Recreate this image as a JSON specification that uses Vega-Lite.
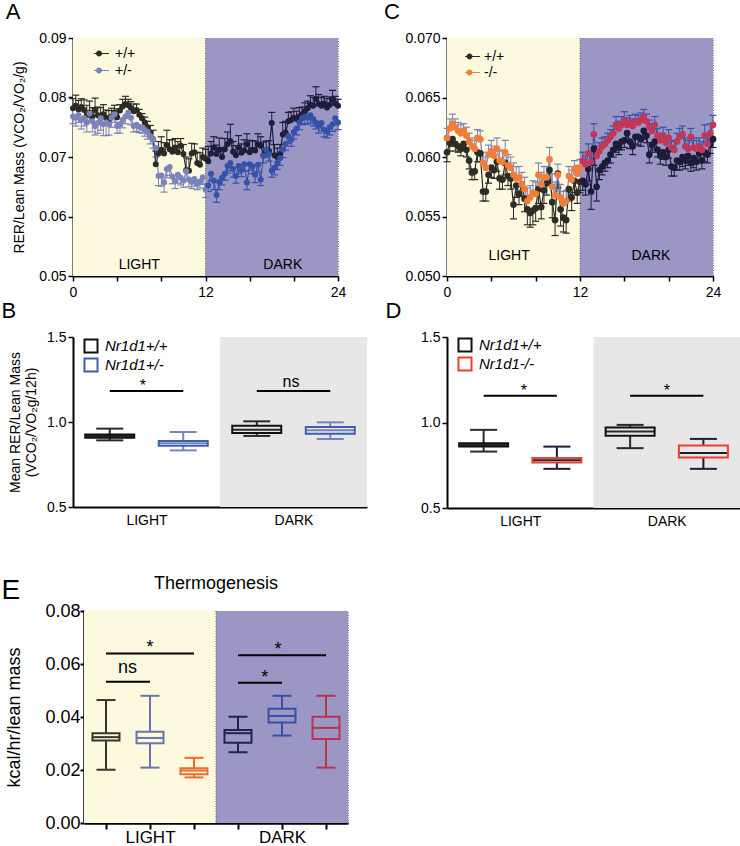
{
"$schema":"https://vega.github.io/schema/vega-lite/v6.json",
"padding":{"left":0,"top":0,"right":0,"bottom":0},
"config":{"font":"Liberation Sans","view":{"stroke":null},
"axis":{"grid":false,"domainColor":"#000","domainWidth":2,"tickColor":"#000","tickWidth":1.5,"tickSize":5,"labelColor":"#000","labelFontSize":14,"titleFontSize":14,"titleFontWeight":"normal","titleColor":"#000","labelFont":"Liberation Sans","titleFont":"Liberation Sans"},
"title":{"font":"Liberation Sans","fontWeight":"normal","color":"#000"},
"legend":{"labelFont":"Liberation Sans","labelColor":"#000"}},
"datasets":{
"a":[
{"g":"WL","t":0,"v":0.0782,"w":0.0798},{"g":"WL","t":0.25,"v":0.0786,"w":0.0804},{"g":"WL","t":0.5,"v":0.0780,"w":0.0795},{"g":"WL","t":0.75,"v":0.0784,"w":0.0798},{"g":"WL","t":1,"v":0.0779,"w":0.0796},{"g":"WL","t":1.25,"v":0.0771,"w":0.0787},{"g":"WL","t":1.5,"v":0.0775,"w":0.0794},{"g":"WL","t":1.75,"v":0.0768,"w":0.0783},{"g":"WL","t":2,"v":0.0779,"w":0.0799},{"g":"WL","t":2.25,"v":0.0770,"w":0.0784},{"g":"WL","t":2.5,"v":0.0765,"w":0.0783},{"g":"WL","t":2.75,"v":0.0772,"w":0.0788},{"g":"WL","t":3,"v":0.0766,"w":0.0779},{"g":"WL","t":3.25,"v":0.0763,"w":0.0778},{"g":"WL","t":3.5,"v":0.0768,"w":0.0782},{"g":"WL","t":3.75,"v":0.0775,"w":0.0787},{"g":"WL","t":4,"v":0.0767,"w":0.0781},{"g":"WL","t":4.25,"v":0.0778,"w":0.0788},{"g":"WL","t":4.5,"v":0.0785,"w":0.0797},{"g":"WL","t":4.75,"v":0.0789,"w":0.0802},{"g":"WL","t":5,"v":0.0787,"w":0.0797},{"g":"WL","t":5.25,"v":0.0782,"w":0.0793},{"g":"WL","t":5.5,"v":0.0777,"w":0.0789},{"g":"WL","t":5.75,"v":0.0779,"w":0.0789},{"g":"WL","t":6,"v":0.0771,"w":0.0780},{"g":"WL","t":6.25,"v":0.0765,"w":0.0773},{"g":"WL","t":6.5,"v":0.0758,"w":0.0767},{"g":"WL","t":6.75,"v":0.0750,"w":0.0760},{"g":"WL","t":7,"v":0.0741,"w":0.0753},{"g":"WL","t":7.25,"v":0.0730,"w":0.0745},{"g":"WL","t":7.5,"v":0.0688,"w":0.0710},{"g":"WL","t":7.75,"v":0.0706,"w":0.0726},{"g":"WL","t":8,"v":0.0712,"w":0.0734},{"g":"WL","t":8.25,"v":0.0706,"w":0.0724},{"g":"WL","t":8.5,"v":0.0720,"w":0.0745},{"g":"WL","t":8.75,"v":0.0713,"w":0.0729},{"g":"WL","t":9,"v":0.0709,"w":0.0729},{"g":"WL","t":9.25,"v":0.0716,"w":0.0731},{"g":"WL","t":9.5,"v":0.0708,"w":0.0726},{"g":"WL","t":9.75,"v":0.0719,"w":0.0731},{"g":"WL","t":10,"v":0.0705,"w":0.0721},{"g":"WL","t":10.25,"v":0.0678,"w":0.0700},{"g":"WL","t":10.5,"v":0.0677,"w":0.0697},{"g":"WL","t":10.75,"v":0.0706,"w":0.0723},{"g":"WL","t":11,"v":0.0708,"w":0.0722},{"g":"WL","t":11.25,"v":0.0690,"w":0.0708},{"g":"WL","t":11.5,"v":0.0687,"w":0.0707},{"g":"WL","t":11.75,"v":0.0700,"w":0.0715},{"g":"WL","t":12,"v":0.0697,"w":0.0713},
{"g":"WD","t":12.25,"v":0.0693,"w":0.0718},{"g":"WD","t":12.5,"v":0.0706,"w":0.0726},{"g":"WD","t":12.75,"v":0.0716,"w":0.0734},{"g":"WD","t":13,"v":0.0705,"w":0.0720},{"g":"WD","t":13.25,"v":0.0712,"w":0.0732},{"g":"WD","t":13.5,"v":0.0700,"w":0.0716},{"g":"WD","t":13.75,"v":0.0713,"w":0.0731},{"g":"WD","t":14,"v":0.0722,"w":0.0742},{"g":"WD","t":14.25,"v":0.0727,"w":0.0755},{"g":"WD","t":14.5,"v":0.0709,"w":0.0726},{"g":"WD","t":14.75,"v":0.0703,"w":0.0719},{"g":"WD","t":15,"v":0.0716,"w":0.0736},{"g":"WD","t":15.25,"v":0.0707,"w":0.0722},{"g":"WD","t":15.5,"v":0.0711,"w":0.0729},{"g":"WD","t":15.75,"v":0.0722,"w":0.0739},{"g":"WD","t":16,"v":0.0708,"w":0.0728},{"g":"WD","t":16.25,"v":0.0712,"w":0.0727},{"g":"WD","t":16.5,"v":0.0711,"w":0.0727},{"g":"WD","t":16.75,"v":0.0721,"w":0.0739},{"g":"WD","t":17,"v":0.0719,"w":0.0734},{"g":"WD","t":17.25,"v":0.0703,"w":0.0725},{"g":"WD","t":17.5,"v":0.0711,"w":0.0727},{"g":"WD","t":17.75,"v":0.0710,"w":0.0727},{"g":"WD","t":18,"v":0.0757,"w":0.0775},{"g":"WD","t":18.25,"v":0.0703,"w":0.0721},{"g":"WD","t":18.5,"v":0.0700,"w":0.0715},{"g":"WD","t":18.75,"v":0.0705,"w":0.0721},{"g":"WD","t":19,"v":0.0738,"w":0.0758},{"g":"WD","t":19.25,"v":0.0741,"w":0.0760},{"g":"WD","t":19.5,"v":0.0760,"w":0.0775},{"g":"WD","t":19.75,"v":0.0762,"w":0.0776},{"g":"WD","t":20,"v":0.0766,"w":0.0782},{"g":"WD","t":20.25,"v":0.0764,"w":0.0777},{"g":"WD","t":20.5,"v":0.0768,"w":0.0783},{"g":"WD","t":20.75,"v":0.0772,"w":0.0784},{"g":"WD","t":21,"v":0.0777,"w":0.0791},{"g":"WD","t":21.25,"v":0.0782,"w":0.0794},{"g":"WD","t":21.5,"v":0.0788,"w":0.0803},{"g":"WD","t":21.75,"v":0.0786,"w":0.0800},{"g":"WD","t":22,"v":0.0798,"w":0.0818},{"g":"WD","t":22.25,"v":0.0789,"w":0.0805},{"g":"WD","t":22.5,"v":0.0786,"w":0.0800},{"g":"WD","t":22.75,"v":0.0790,"w":0.0802},{"g":"WD","t":23,"v":0.0783,"w":0.0798},{"g":"WD","t":23.25,"v":0.0788,"w":0.0801},{"g":"WD","t":23.5,"v":0.0797,"w":0.0812},{"g":"WD","t":23.75,"v":0.0790,"w":0.0802},{"g":"WD","t":24,"v":0.0786,"w":0.0797},
{"g":"HL","t":0,"v":0.0768,"w":0.0756},{"g":"HL","t":0.25,"v":0.0766,"w":0.0752},{"g":"HL","t":0.5,"v":0.0770,"w":0.0758},{"g":"HL","t":0.75,"v":0.0762,"w":0.0747},{"g":"HL","t":1,"v":0.0765,"w":0.0752},{"g":"HL","t":1.25,"v":0.0758,"w":0.0742},{"g":"HL","t":1.5,"v":0.0773,"w":0.0759},{"g":"HL","t":1.75,"v":0.0760,"w":0.0742},{"g":"HL","t":2,"v":0.0752,"w":0.0737},{"g":"HL","t":2.25,"v":0.0757,"w":0.0740},{"g":"HL","t":2.5,"v":0.0765,"w":0.0745},{"g":"HL","t":2.75,"v":0.0755,"w":0.0736},{"g":"HL","t":3,"v":0.0758,"w":0.0736},{"g":"HL","t":3.25,"v":0.0755,"w":0.0737},{"g":"HL","t":3.5,"v":0.0766,"w":0.0750},{"g":"HL","t":3.75,"v":0.0772,"w":0.0758},{"g":"HL","t":4,"v":0.0752,"w":0.0740},{"g":"HL","t":4.25,"v":0.0755,"w":0.0740},{"g":"HL","t":4.5,"v":0.0762,"w":0.0749},{"g":"HL","t":4.75,"v":0.0768,"w":0.0756},{"g":"HL","t":5,"v":0.0775,"w":0.0765},{"g":"HL","t":5.25,"v":0.0766,"w":0.0754},{"g":"HL","t":5.5,"v":0.0752,"w":0.0742},{"g":"HL","t":5.75,"v":0.0754,"w":0.0743},{"g":"HL","t":6,"v":0.0751,"w":0.0741},{"g":"HL","t":6.25,"v":0.0749,"w":0.0740},{"g":"HL","t":6.5,"v":0.0746,"w":0.0735},{"g":"HL","t":6.75,"v":0.0742,"w":0.0730},{"g":"HL","t":7,"v":0.0735,"w":0.0722},{"g":"HL","t":7.25,"v":0.0729,"w":0.0715},{"g":"HL","t":7.5,"v":0.0715,"w":0.0700},{"g":"HL","t":7.75,"v":0.0668,"w":0.0652},{"g":"HL","t":8,"v":0.0669,"w":0.0651},{"g":"HL","t":8.25,"v":0.0657,"w":0.0641},{"g":"HL","t":8.5,"v":0.0680,"w":0.0665},{"g":"HL","t":8.75,"v":0.0683,"w":0.0669},{"g":"HL","t":9,"v":0.0667,"w":0.0655},{"g":"HL","t":9.25,"v":0.0660,"w":0.0647},{"g":"HL","t":9.5,"v":0.0670,"w":0.0656},{"g":"HL","t":9.75,"v":0.0665,"w":0.0653},{"g":"HL","t":10,"v":0.0660,"w":0.0649},{"g":"HL","t":10.25,"v":0.0676,"w":0.0663},{"g":"HL","t":10.5,"v":0.0662,"w":0.0650},{"g":"HL","t":10.75,"v":0.0658,"w":0.0647},{"g":"HL","t":11,"v":0.0663,"w":0.0651},{"g":"HL","t":11.25,"v":0.0655,"w":0.0645},{"g":"HL","t":11.5,"v":0.0659,"w":0.0648},{"g":"HL","t":11.75,"v":0.0666,"w":0.0654},{"g":"HL","t":12,"v":0.0645,"w":0.0632},
{"g":"HD","t":12.25,"v":0.0652,"w":0.0642},{"g":"HD","t":12.5,"v":0.0672,"w":0.0660},{"g":"HD","t":12.75,"v":0.0660,"w":0.0645},{"g":"HD","t":13,"v":0.0636,"w":0.0624},{"g":"HD","t":13.25,"v":0.0658,"w":0.0645},{"g":"HD","t":13.5,"v":0.0665,"w":0.0653},{"g":"HD","t":13.75,"v":0.0672,"w":0.0661},{"g":"HD","t":14,"v":0.0685,"w":0.0673},{"g":"HD","t":14.25,"v":0.0690,"w":0.0677},{"g":"HD","t":14.5,"v":0.0680,"w":0.0666},{"g":"HD","t":14.75,"v":0.0668,"w":0.0656},{"g":"HD","t":15,"v":0.0685,"w":0.0672},{"g":"HD","t":15.25,"v":0.0678,"w":0.0667},{"g":"HD","t":15.5,"v":0.0688,"w":0.0676},{"g":"HD","t":15.75,"v":0.0657,"w":0.0645},{"g":"HD","t":16,"v":0.0688,"w":0.0677},{"g":"HD","t":16.25,"v":0.0684,"w":0.0672},{"g":"HD","t":16.5,"v":0.0670,"w":0.0657},{"g":"HD","t":16.75,"v":0.0687,"w":0.0675},{"g":"HD","t":17,"v":0.0662,"w":0.0652},{"g":"HD","t":17.25,"v":0.0702,"w":0.0690},{"g":"HD","t":17.5,"v":0.0712,"w":0.0699},{"g":"HD","t":17.75,"v":0.0705,"w":0.0693},{"g":"HD","t":18,"v":0.0677,"w":0.0666},{"g":"HD","t":18.25,"v":0.0682,"w":0.0670},{"g":"HD","t":18.5,"v":0.0690,"w":0.0679},{"g":"HD","t":18.75,"v":0.0698,"w":0.0686},{"g":"HD","t":19,"v":0.0712,"w":0.0699},{"g":"HD","t":19.25,"v":0.0722,"w":0.0711},{"g":"HD","t":19.5,"v":0.0735,"w":0.0723},{"g":"HD","t":19.75,"v":0.0729,"w":0.0718},{"g":"HD","t":20,"v":0.0742,"w":0.0730},{"g":"HD","t":20.25,"v":0.0748,"w":0.0737},{"g":"HD","t":20.5,"v":0.0758,"w":0.0746},{"g":"HD","t":20.75,"v":0.0765,"w":0.0754},{"g":"HD","t":21,"v":0.0768,"w":0.0756},{"g":"HD","t":21.25,"v":0.0766,"w":0.0755},{"g":"HD","t":21.5,"v":0.0770,"w":0.0757},{"g":"HD","t":21.75,"v":0.0764,"w":0.0752},{"g":"HD","t":22,"v":0.0758,"w":0.0747},{"g":"HD","t":22.25,"v":0.0752,"w":0.0740},{"g":"HD","t":22.5,"v":0.0757,"w":0.0744},{"g":"HD","t":22.75,"v":0.0746,"w":0.0734},{"g":"HD","t":23,"v":0.0743,"w":0.0732},{"g":"HD","t":23.25,"v":0.0750,"w":0.0737},{"g":"HD","t":23.5,"v":0.0755,"w":0.0743},{"g":"HD","t":23.75,"v":0.0765,"w":0.0754},{"g":"HD","t":24,"v":0.0758,"w":0.0746}
],
"c":[
{"g":"WL","t":0,"v":0.0604,"w":0.0596},{"g":"WL","t":0.25,"v":0.0612,"w":0.0605},{"g":"WL","t":0.5,"v":0.0615,"w":0.0609},{"g":"WL","t":0.75,"v":0.0611,"w":0.0605},{"g":"WL","t":1,"v":0.0609,"w":0.0604},{"g":"WL","t":1.25,"v":0.0607,"w":0.0601},{"g":"WL","t":1.5,"v":0.0611,"w":0.0606},{"g":"WL","t":1.75,"v":0.0606,"w":0.0600},{"g":"WL","t":2,"v":0.0597,"w":0.0590},{"g":"WL","t":2.25,"v":0.0587,"w":0.0581},{"g":"WL","t":2.5,"v":0.0588,"w":0.0581},{"g":"WL","t":2.75,"v":0.0604,"w":0.0596},{"g":"WL","t":3,"v":0.0603,"w":0.0596},{"g":"WL","t":3.25,"v":0.0571,"w":0.0563},{"g":"WL","t":3.5,"v":0.0571,"w":0.0563},{"g":"WL","t":3.75,"v":0.0585,"w":0.0578},{"g":"WL","t":4,"v":0.0591,"w":0.0583},{"g":"WL","t":4.25,"v":0.0589,"w":0.0582},{"g":"WL","t":4.5,"v":0.0596,"w":0.0588},{"g":"WL","t":4.75,"v":0.0582,"w":0.0573},{"g":"WL","t":5,"v":0.0581,"w":0.0573},{"g":"WL","t":5.25,"v":0.0595,"w":0.0585},{"g":"WL","t":5.5,"v":0.0584,"w":0.0576},{"g":"WL","t":5.75,"v":0.0582,"w":0.0573},{"g":"WL","t":6,"v":0.0560,"w":0.0548},{"g":"WL","t":6.25,"v":0.0576,"w":0.0566},{"g":"WL","t":6.5,"v":0.0569,"w":0.0560},{"g":"WL","t":6.75,"v":0.0577,"w":0.0567},{"g":"WL","t":7,"v":0.0565,"w":0.0554},{"g":"WL","t":7.25,"v":0.0556,"w":0.0543},{"g":"WL","t":7.5,"v":0.0553,"w":0.0541},{"g":"WL","t":7.75,"v":0.0555,"w":0.0543},{"g":"WL","t":8,"v":0.0557,"w":0.0546},{"g":"WL","t":8.25,"v":0.0573,"w":0.0561},{"g":"WL","t":8.5,"v":0.0558,"w":0.0548},{"g":"WL","t":8.75,"v":0.0572,"w":0.0561},{"g":"WL","t":9,"v":0.0578,"w":0.0568},{"g":"WL","t":9.25,"v":0.0589,"w":0.0577},{"g":"WL","t":9.5,"v":0.0562,"w":0.0549},{"g":"WL","t":9.75,"v":0.0547,"w":0.0534},{"g":"WL","t":10,"v":0.0586,"w":0.0574},{"g":"WL","t":10.25,"v":0.0556,"w":0.0542},{"g":"WL","t":10.5,"v":0.0549,"w":0.0537},{"g":"WL","t":10.75,"v":0.0547,"w":0.0536},{"g":"WL","t":11,"v":0.0573,"w":0.0563},{"g":"WL","t":11.25,"v":0.0566,"w":0.0555},{"g":"WL","t":11.5,"v":0.0580,"w":0.0570},{"g":"WL","t":11.75,"v":0.0570,"w":0.0561},{"g":"WL","t":12,"v":0.0579,"w":0.0570},
{"g":"WD","t":12.25,"v":0.0580,"w":0.0572},{"g":"WD","t":12.5,"v":0.0577,"w":0.0568},{"g":"WD","t":12.75,"v":0.0590,"w":0.0580},{"g":"WD","t":13,"v":0.0571,"w":0.0556},{"g":"WD","t":13.25,"v":0.0607,"w":0.0593},{"g":"WD","t":13.5,"v":0.0575,"w":0.0563},{"g":"WD","t":13.75,"v":0.0589,"w":0.0581},{"g":"WD","t":14,"v":0.0592,"w":0.0585},{"g":"WD","t":14.25,"v":0.0595,"w":0.0588},{"g":"WD","t":14.5,"v":0.0597,"w":0.0591},{"g":"WD","t":14.75,"v":0.0602,"w":0.0595},{"g":"WD","t":15,"v":0.0606,"w":0.0600},{"g":"WD","t":15.25,"v":0.0611,"w":0.0604},{"g":"WD","t":15.5,"v":0.0608,"w":0.0602},{"g":"WD","t":15.75,"v":0.0613,"w":0.0606},{"g":"WD","t":16,"v":0.0614,"w":0.0608},{"g":"WD","t":16.25,"v":0.0620,"w":0.0613},{"g":"WD","t":16.5,"v":0.0613,"w":0.0607},{"g":"WD","t":16.75,"v":0.0609,"w":0.0602},{"g":"WD","t":17,"v":0.0617,"w":0.0611},{"g":"WD","t":17.25,"v":0.0617,"w":0.0610},{"g":"WD","t":17.5,"v":0.0615,"w":0.0609},{"g":"WD","t":17.75,"v":0.0622,"w":0.0615},{"g":"WD","t":18,"v":0.0618,"w":0.0612},{"g":"WD","t":18.25,"v":0.0602,"w":0.0595},{"g":"WD","t":18.5,"v":0.0610,"w":0.0604},{"g":"WD","t":18.75,"v":0.0613,"w":0.0606},{"g":"WD","t":19,"v":0.0606,"w":0.0600},{"g":"WD","t":19.25,"v":0.0601,"w":0.0594},{"g":"WD","t":19.5,"v":0.0604,"w":0.0598},{"g":"WD","t":19.75,"v":0.0600,"w":0.0593},{"g":"WD","t":20,"v":0.0606,"w":0.0599},{"g":"WD","t":20.25,"v":0.0592,"w":0.0584},{"g":"WD","t":20.5,"v":0.0591,"w":0.0584},{"g":"WD","t":20.75,"v":0.0597,"w":0.0589},{"g":"WD","t":21,"v":0.0596,"w":0.0589},{"g":"WD","t":21.25,"v":0.0600,"w":0.0592},{"g":"WD","t":21.5,"v":0.0597,"w":0.0590},{"g":"WD","t":21.75,"v":0.0601,"w":0.0593},{"g":"WD","t":22,"v":0.0595,"w":0.0588},{"g":"WD","t":22.25,"v":0.0599,"w":0.0591},{"g":"WD","t":22.5,"v":0.0596,"w":0.0589},{"g":"WD","t":22.75,"v":0.0603,"w":0.0595},{"g":"WD","t":23,"v":0.0597,"w":0.0590},{"g":"WD","t":23.25,"v":0.0604,"w":0.0596},{"g":"WD","t":23.5,"v":0.0602,"w":0.0595},{"g":"WD","t":23.75,"v":0.0611,"w":0.0603},{"g":"WD","t":24,"v":0.0615,"w":0.0608},
{"g":"HL","t":0,"v":0.0616,"w":0.0624},{"g":"HL","t":0.25,"v":0.0624,"w":0.0632},{"g":"HL","t":0.5,"v":0.0628,"w":0.0636},{"g":"HL","t":0.75,"v":0.0625,"w":0.0632},{"g":"HL","t":1,"v":0.0622,"w":0.0629},{"g":"HL","t":1.25,"v":0.0620,"w":0.0627},{"g":"HL","t":1.5,"v":0.0622,"w":0.0628},{"g":"HL","t":1.75,"v":0.0618,"w":0.0625},{"g":"HL","t":2,"v":0.0613,"w":0.0620},{"g":"HL","t":2.25,"v":0.0609,"w":0.0616},{"g":"HL","t":2.5,"v":0.0607,"w":0.0614},{"g":"HL","t":2.75,"v":0.0616,"w":0.0623},{"g":"HL","t":3,"v":0.0615,"w":0.0622},{"g":"HL","t":3.25,"v":0.0595,"w":0.0604},{"g":"HL","t":3.5,"v":0.0591,"w":0.0600},{"g":"HL","t":3.75,"v":0.0602,"w":0.0610},{"g":"HL","t":4,"v":0.0605,"w":0.0614},{"g":"HL","t":4.25,"v":0.0601,"w":0.0609},{"g":"HL","t":4.5,"v":0.0607,"w":0.0616},{"g":"HL","t":4.75,"v":0.0597,"w":0.0606},{"g":"HL","t":5,"v":0.0596,"w":0.0605},{"g":"HL","t":5.25,"v":0.0604,"w":0.0614},{"g":"HL","t":5.5,"v":0.0593,"w":0.0602},{"g":"HL","t":5.75,"v":0.0591,"w":0.0600},{"g":"HL","t":6,"v":0.0585,"w":0.0595},{"g":"HL","t":6.25,"v":0.0582,"w":0.0592},{"g":"HL","t":6.5,"v":0.0583,"w":0.0592},{"g":"HL","t":6.75,"v":0.0577,"w":0.0587},{"g":"HL","t":7,"v":0.0573,"w":0.0583},{"g":"HL","t":7.25,"v":0.0563,"w":0.0574},{"g":"HL","t":7.5,"v":0.0566,"w":0.0576},{"g":"HL","t":7.75,"v":0.0570,"w":0.0580},{"g":"HL","t":8,"v":0.0569,"w":0.0579},{"g":"HL","t":8.25,"v":0.0585,"w":0.0595},{"g":"HL","t":8.5,"v":0.0577,"w":0.0587},{"g":"HL","t":8.75,"v":0.0583,"w":0.0592},{"g":"HL","t":9,"v":0.0583,"w":0.0592},{"g":"HL","t":9.25,"v":0.0598,"w":0.0608},{"g":"HL","t":9.5,"v":0.0575,"w":0.0586},{"g":"HL","t":9.75,"v":0.0568,"w":0.0579},{"g":"HL","t":10,"v":0.0585,"w":0.0594},{"g":"HL","t":10.25,"v":0.0566,"w":0.0577},{"g":"HL","t":10.5,"v":0.0561,"w":0.0571},{"g":"HL","t":10.75,"v":0.0563,"w":0.0572},{"g":"HL","t":11,"v":0.0584,"w":0.0592},{"g":"HL","t":11.25,"v":0.0581,"w":0.0589},{"g":"HL","t":11.5,"v":0.0590,"w":0.0597},{"g":"HL","t":11.75,"v":0.0586,"w":0.0593},{"g":"HL","t":12,"v":0.0591,"w":0.0598},
{"g":"HD","t":12.25,"v":0.0597,"w":0.0604},{"g":"HD","t":12.5,"v":0.0594,"w":0.0601},{"g":"HD","t":12.75,"v":0.0603,"w":0.0611},{"g":"HD","t":13,"v":0.0596,"w":0.0605},{"g":"HD","t":13.25,"v":0.0619,"w":0.0628},{"g":"HD","t":13.5,"v":0.0601,"w":0.0609},{"g":"HD","t":13.75,"v":0.0605,"w":0.0612},{"g":"HD","t":14,"v":0.0609,"w":0.0616},{"g":"HD","t":14.25,"v":0.0611,"w":0.0617},{"g":"HD","t":14.5,"v":0.0614,"w":0.0620},{"g":"HD","t":14.75,"v":0.0617,"w":0.0623},{"g":"HD","t":15,"v":0.0620,"w":0.0626},{"g":"HD","t":15.25,"v":0.0627,"w":0.0634},{"g":"HD","t":15.5,"v":0.0624,"w":0.0630},{"g":"HD","t":15.75,"v":0.0627,"w":0.0634},{"g":"HD","t":16,"v":0.0631,"w":0.0638},{"g":"HD","t":16.25,"v":0.0627,"w":0.0633},{"g":"HD","t":16.5,"v":0.0629,"w":0.0635},{"g":"HD","t":16.75,"v":0.0626,"w":0.0632},{"g":"HD","t":17,"v":0.0630,"w":0.0636},{"g":"HD","t":17.25,"v":0.0629,"w":0.0635},{"g":"HD","t":17.5,"v":0.0631,"w":0.0637},{"g":"HD","t":17.75,"v":0.0634,"w":0.0640},{"g":"HD","t":18,"v":0.0630,"w":0.0636},{"g":"HD","t":18.25,"v":0.0625,"w":0.0631},{"g":"HD","t":18.5,"v":0.0622,"w":0.0628},{"g":"HD","t":18.75,"v":0.0627,"w":0.0634},{"g":"HD","t":19,"v":0.0618,"w":0.0624},{"g":"HD","t":19.25,"v":0.0614,"w":0.0620},{"g":"HD","t":19.5,"v":0.0618,"w":0.0625},{"g":"HD","t":19.75,"v":0.0612,"w":0.0618},{"g":"HD","t":20,"v":0.0616,"w":0.0623},{"g":"HD","t":20.25,"v":0.0608,"w":0.0614},{"g":"HD","t":20.5,"v":0.0606,"w":0.0613},{"g":"HD","t":20.75,"v":0.0613,"w":0.0620},{"g":"HD","t":21,"v":0.0617,"w":0.0624},{"g":"HD","t":21.25,"v":0.0619,"w":0.0626},{"g":"HD","t":21.5,"v":0.0609,"w":0.0616},{"g":"HD","t":21.75,"v":0.0607,"w":0.0614},{"g":"HD","t":22,"v":0.0617,"w":0.0624},{"g":"HD","t":22.25,"v":0.0608,"w":0.0616},{"g":"HD","t":22.5,"v":0.0607,"w":0.0614},{"g":"HD","t":22.75,"v":0.0609,"w":0.0616},{"g":"HD","t":23,"v":0.0606,"w":0.0613},{"g":"HD","t":23.25,"v":0.0618,"w":0.0627},{"g":"HD","t":23.5,"v":0.0611,"w":0.0618},{"g":"HD","t":23.75,"v":0.0620,"w":0.0628},{"g":"HD","t":24,"v":0.0627,"w":0.0635}
]},
"spacing":46,
"resolve":{"scale":{"color":"independent"},"legend":{"color":"independent"}},
"vconcat":[
{"spacing":0,"resolve":{"scale":{"color":"independent"},"legend":{"color":"independent"}},
"hconcat":[
{"width":1,"height":1,"data":{"values":[{}]},"mark":{"type":"text","text":""},"encoding":{}},
{"columns":2,"bounds":"flush","spacing":{"row":61,"column":80},
"resolve":{"scale":{"color":"independent"},"legend":{"color":"independent"}},
"concat":[
{"width":265,"height":238,
"title":{"text":"A","anchor":"start","frame":"bounds","fontSize":22,"dx":-7,"offset":7},
"view":{"stroke":"#777","strokeDash":[1,1.5],"strokeWidth":1},
"layer":[
{"data":{"values":[{"a":0,"b":12}]},"mark":{"type":"rect","color":"#fdf9de"},
"encoding":{"x":{"field":"a","type":"quantitative","scale":{"domain":[0,24],"nice":false},"axis":{"title":null,"values":[0,0.5,1,1.5,2,2.5,3,3.5,4,4.5,5,5.5,6,6.5,7,7.5,8,8.5,9,9.5,10,10.5,11,11.5,12,12.5,13,13.5,14,14.5,15,15.5,16,16.5,17,17.5,18,18.5,19,19.5,20,20.5,21,21.5,22,22.5,23,23.5,24],"labelExpr":"datum.value == 0 ? '0' : datum.value == 12 ? '12' : datum.value == 24 ? '24' : ''","labelFlush":false,"labelOverlap":false,"labelPadding":4}},
"x2":{"field":"b"},
"y":{"datum":0.05,"type":"quantitative","scale":{"domain":[0.05,0.09],"nice":false,"zero":false},"axis":{"values":[0.05,0.06,0.07,0.08,0.09],"format":".2f","title":"RER/Lean Mass (VCO₂/VO₂/g)","titlePadding":12,"labelPadding":2}},
"y2":{"datum":0.09}}},
{"data":{"values":[{"a":12,"b":24}]},"mark":{"type":"rect","color":"#9b96c4"},
"encoding":{"x":{"field":"a","type":"quantitative"},"x2":{"field":"b"},"y":{"datum":0.05,"type":"quantitative"},"y2":{"datum":0.09}}},
{"data":{"values":[{}]},"mark":{"type":"rule","strokeDash":[1,1.5],"color":"#666","strokeWidth":1},"encoding":{"x":{"datum":12,"type":"quantitative"}}},
{"data":{"values":[{"t":6,"v":0.0519,"s":"LIGHT"},{"t":19,"v":0.0519,"s":"DARK"}]},"mark":{"type":"text","fontSize":14,"baseline":"middle","color":"#000"},
"encoding":{"x":{"field":"t","type":"quantitative"},"y":{"field":"v","type":"quantitative"},"text":{"field":"s"}}},
{"data":{"name":"a"},"mark":{"type":"rule","strokeWidth":1},
"encoding":{"x":{"field":"t","type":"quantitative"},"y":{"field":"v","type":"quantitative"},"y2":{"field":"w"},"stroke":{"field":"g","type":"nominal","scale":{"domain":["WL","HL","WD","HD"],"range":["#2b2b26","#7b83bd","#1d1d3d","#3552a8"]},"legend":null}}},
{"data":{"name":"a"},"mark":{"type":"tick","orient":"horizontal","size":7,"thickness":1.2,"opacity":1},
"encoding":{"x":{"field":"t","type":"quantitative"},"y":{"field":"w","type":"quantitative"},"fill":{"field":"g","type":"nominal","scale":{"domain":["WL","HL","WD","HD"],"range":["#2b2b26","#7b83bd","#1d1d3d","#3552a8"]},"legend":null}}},
{"data":{"name":"a"},"mark":{"type":"line","strokeWidth":1.2},
"encoding":{"x":{"field":"t","type":"quantitative"},"y":{"field":"v","type":"quantitative"},"stroke":{"field":"g","type":"nominal","legend":null}}},
{"data":{"name":"a"},"mark":{"type":"point","filled":true,"size":36,"opacity":1},
"encoding":{"x":{"field":"t","type":"quantitative"},"y":{"field":"v","type":"quantitative"},"color":{"field":"g","type":"nominal","scale":{"domain":["WL","HL","WD","HD"],"range":["#2b2b26","#7b83bd","#1d1d3d","#3552a8"]},"legend":{"values":["WL","HL"],"labelExpr":"datum.value == 'WL' ? '+/+' : '+/-'","title":null,"orient":"none","legendX":20,"legendY":7,"symbolType":"M-1,-0.08L1,-0.08L1,0.08L-1,0.08Z M0.07,0A0.4,0.4,0,1,1,-0.73,0A0.4,0.4,0,1,1,0.07,0Z","symbolSize":225,"labelFontSize":14,"labelOffset":5,"rowPadding":1,"padding":0}}}}
]},
{"width":266,"height":238,
"title":{"text":"C","anchor":"start","frame":"bounds","fontSize":22,"dx":-21,"offset":7},
"view":{"stroke":"#777","strokeDash":[1,1.5],"strokeWidth":1},
"layer":[
{"data":{"values":[{"a":0,"b":12}]},"mark":{"type":"rect","color":"#fdf9de"},
"encoding":{"x":{"field":"a","type":"quantitative","scale":{"domain":[0,24],"nice":false},"axis":{"title":null,"values":[0,1,2,3,4,5,6,7,8,9,10,11,12,13,14,15,16,17,18,19,20,21,22,23,24],"labelExpr":"datum.value == 0 ? '0' : datum.value == 12 ? '12' : datum.value == 24 ? '24' : ''","labelFlush":false,"labelOverlap":false,"labelPadding":4}},
"x2":{"field":"b"},
"y":{"datum":0.05,"type":"quantitative","scale":{"domain":[0.05,0.07],"nice":false,"zero":false},"axis":{"values":[0.05,0.055,0.06,0.065,0.07],"format":".3f","title":null,"labelPadding":2}},
"y2":{"datum":0.07}}},
{"data":{"values":[{"a":12,"b":24}]},"mark":{"type":"rect","color":"#9b96c4"},
"encoding":{"x":{"field":"a","type":"quantitative"},"x2":{"field":"b"},"y":{"datum":0.05,"type":"quantitative"},"y2":{"datum":0.07}}},
{"data":{"values":[{}]},"mark":{"type":"rule","strokeDash":[1,1.5],"color":"#666","strokeWidth":1},"encoding":{"x":{"datum":12,"type":"quantitative"}}},
{"data":{"values":[{"t":5.6,"v":0.0517,"s":"LIGHT"},{"t":18.4,"v":0.0517,"s":"DARK"}]},"mark":{"type":"text","fontSize":14,"baseline":"middle","color":"#000"},
"encoding":{"x":{"field":"t","type":"quantitative"},"y":{"field":"v","type":"quantitative"},"text":{"field":"s"}}},
{"data":{"name":"c"},"mark":{"type":"rule","strokeWidth":1},
"encoding":{"x":{"field":"t","type":"quantitative"},"y":{"field":"v","type":"quantitative"},"y2":{"field":"w"},"stroke":{"field":"g","type":"nominal","scale":{"domain":["WL","HL","WD","HD"],"range":["#2d2d26","#f07e3a","#1c1c3a","#c0375a"]},"legend":null}}},
{"data":{"name":"c"},"mark":{"type":"tick","orient":"horizontal","size":7,"thickness":1.2,"opacity":1},
"encoding":{"x":{"field":"t","type":"quantitative"},"y":{"field":"w","type":"quantitative"},"fill":{"field":"g","type":"nominal","scale":{"domain":["WL","HL","WD","HD"],"range":["#2d2d26","#f07e3a","#1c1c3a","#c0375a"]},"legend":null}}},
{"data":{"name":"c"},"mark":{"type":"line","strokeWidth":1.2},
"encoding":{"x":{"field":"t","type":"quantitative"},"y":{"field":"v","type":"quantitative"},"stroke":{"field":"g","type":"nominal","legend":null}}},
{"data":{"name":"c"},"mark":{"type":"point","filled":true,"size":45,"opacity":1},
"encoding":{"x":{"field":"t","type":"quantitative"},"y":{"field":"v","type":"quantitative"},"color":{"field":"g","type":"nominal","scale":{"domain":["WL","HL","WD","HD"],"range":["#2d2d26","#f07e3a","#1c1c3a","#c0375a"]},"legend":{"values":["WL","HL"],"labelExpr":"datum.value == 'WL' ? '+/+' : '-/-'","title":null,"orient":"none","legendX":17,"legendY":10,"symbolType":"M-1,-0.08L1,-0.08L1,0.08L-1,0.08Z M0,0A0.4,0.4,0,1,1,-0.8,0A0.4,0.4,0,1,1,0,0Z","symbolSize":225,"labelFontSize":14,"labelOffset":3,"rowPadding":0,"padding":0}}}}
]},
{"width":294,"height":170,
"title":{"text":"B","anchor":"start","frame":"bounds","fontSize":22,"dx":-7,"offset":7},
"layer":[
{"layer":[
{"data":{"values":[{"a":1,"b":2}]},"mark":{"type":"rect","color":"#e7e7e7"},
"encoding":{"x":{"field":"a","type":"quantitative","scale":{"domain":[0,2],"nice":false},"axis":{"title":null,"values":[0.5,1.5],"labelExpr":"datum.value == 0.5 ? 'LIGHT' : 'DARK'","ticks":false,"labelPadding":6,"labelFlush":false}},
"x2":{"field":"b"},
"y":{"datum":0.5,"type":"quantitative","scale":{"domain":[0.5,1.5],"nice":false,"zero":false},"axis":{"values":[0.5,1.0,1.5],"format":".1f","title":["Mean RER/Lean Mass","(VCO₂/VO₂g/12h)"],"titlePadding":8,"labelPadding":2}},
"y2":{"datum":1.5}}},
{"data":{"values":[{"x":0.476,"y":1.182,"s":"*"},{"x":1.483,"y":1.206,"s":"ns"}]},"mark":{"type":"text","fontSize":16,"baseline":"alphabetic","color":"#000"},
"encoding":{"x":{"field":"x","type":"quantitative"},"y":{"field":"y","type":"quantitative"},"text":{"field":"s"}}}
]},
{"data":{"values":[
{"k":"LIGHT +/+","g":"Nr1d1+/+","lo":0.892,"q1":0.908,"m":0.918,"q3":0.927,"hi":0.961},
{"k":"LIGHT +/-","g":"Nr1d1+/-","lo":0.833,"q1":0.861,"m":0.875,"q3":0.888,"hi":0.941},
{"k":"DARK +/+","g":"Nr1d1+/+","lo":0.918,"q1":0.935,"m":0.955,"q3":0.978,"hi":1.004},
{"k":"DARK +/-","g":"Nr1d1+/-","lo":0.900,"q1":0.931,"m":0.952,"q3":0.971,"hi":0.998}]},
"encoding":{"x":{"field":"k","type":"nominal","scale":{"domain":["LIGHT +/+","LIGHT +/-","DARK +/+","DARK +/-"],"paddingInner":0,"paddingOuter":0},"axis":null}},
"layer":[
{"mark":{"type":"rule","strokeWidth":2},"encoding":{"y":{"field":"lo","type":"quantitative"},"y2":{"field":"q1"},"stroke":{"field":"g","type":"nominal","scale":{"domain":["Nr1d1+/+","Nr1d1+/-"],"range":["#111111","#3e5fae"]},"legend":null}}},
{"mark":{"type":"rule","strokeWidth":2},"encoding":{"y":{"field":"q3","type":"quantitative"},"y2":{"field":"hi"},"stroke":{"field":"g","type":"nominal","legend":null}}},
{"mark":{"type":"tick","orient":"horizontal","size":27,"thickness":2,"opacity":1},"encoding":{"y":{"field":"lo","type":"quantitative"},"fill":{"field":"g","type":"nominal","scale":{"domain":["Nr1d1+/+","Nr1d1+/-"],"range":["#111111","#3e5fae"]},"legend":null}}},
{"mark":{"type":"tick","orient":"horizontal","size":27,"thickness":2,"opacity":1},"encoding":{"y":{"field":"hi","type":"quantitative"},"fill":{"field":"g","type":"nominal","legend":null}}},
{"mark":{"type":"tick","orient":"horizontal","size":49,"thickness":2,"opacity":1},"encoding":{"y":{"field":"m","type":"quantitative"},"fill":{"field":"g","type":"nominal","legend":null}}},
{"mark":{"type":"bar","filled":false,"width":49,"strokeWidth":2},"encoding":{"y":{"field":"q1","type":"quantitative"},"y2":{"field":"q3"},"color":{"field":"g","type":"nominal","scale":{"domain":["Nr1d1+/+","Nr1d1+/-"],"range":["#111111","#3e5fae"]},"legend":{"title":null,"orient":"none","legendX":10,"legendY":1,"symbolType":"square","symbolSize":170,"symbolStrokeWidth":2,"labelFontSize":15,"labelFontStyle":"italic","labelOffset":6,"rowPadding":-4,"padding":0}}}},
{"data":{"values":[{"a":"LIGHT +/+","b":"LIGHT +/-","y":1.182},{"a":"DARK +/+","b":"DARK +/-","y":1.182}]},"mark":{"type":"rule","strokeWidth":2,"color":"#000"},
"encoding":{"x":{"field":"a","type":"nominal"},"x2":{"field":"b"},"y":{"field":"y","type":"quantitative"}}}
]}
],
"resolve":{"scale":{"x":"independent"},"axis":{"x":"independent"}}},
{"width":293,"height":171,
"title":{"text":"D","anchor":"start","frame":"bounds","fontSize":22,"dx":-35,"offset":7},
"layer":[
{"layer":[
{"data":{"values":[{"a":1,"b":2}]},"mark":{"type":"rect","color":"#e7e7e7"},
"encoding":{"x":{"field":"a","type":"quantitative","scale":{"domain":[0,2],"nice":false},"axis":{"title":null,"values":[0.5,1.5],"labelExpr":"datum.value == 0.5 ? 'LIGHT' : 'DARK'","ticks":false,"labelPadding":6,"labelFlush":false}},
"x2":{"field":"b"},
"y":{"datum":0.5,"type":"quantitative","scale":{"domain":[0.5,1.5],"nice":false,"zero":false},"axis":{"values":[0.5,1.0,1.5],"format":".1f","title":null,"labelPadding":2}},
"y2":{"datum":1.5}}},
{"data":{"values":[{"x":0.525,"y":1.156,"s":"*"},{"x":1.5,"y":1.156,"s":"*"}]},"mark":{"type":"text","fontSize":16,"baseline":"alphabetic","color":"#000"},
"encoding":{"x":{"field":"x","type":"quantitative"},"y":{"field":"y","type":"quantitative"},"text":{"field":"s"}}}
]},
{"data":{"values":[
{"k":"LIGHT +/+","g":"Nr1d1+/+","lo":0.830,"q1":0.859,"m":0.869,"q3":0.879,"hi":0.957},
{"k":"LIGHT -/-","g":"Nr1d1-/-","lo":0.729,"q1":0.766,"m":0.779,"q3":0.793,"hi":0.859},
{"k":"DARK +/+","g":"Nr1d1+/+","lo":0.850,"q1":0.922,"m":0.947,"q3":0.971,"hi":0.986},
{"k":"DARK -/-","g":"Nr1d1-/-","lo":0.729,"q1":0.795,"m":0.822,"q3":0.865,"hi":0.904}]},
"encoding":{"x":{"field":"k","type":"nominal","scale":{"domain":["LIGHT +/+","LIGHT -/-","DARK +/+","DARK -/-"],"paddingInner":0,"paddingOuter":0},"axis":null}},
"layer":[
{"mark":{"type":"rule","strokeWidth":2},"encoding":{"y":{"field":"lo","type":"quantitative"},"y2":{"field":"q1"},"stroke":{"field":"g","type":"nominal","scale":{"domain":["Nr1d1+/+","Nr1d1-/-"],"range":["#111111","#e8412c"]},"legend":null}}},
{"mark":{"type":"rule","strokeWidth":2},"encoding":{"y":{"field":"q3","type":"quantitative"},"y2":{"field":"hi"},"stroke":{"field":"g","type":"nominal","legend":null}}},
{"mark":{"type":"tick","orient":"horizontal","size":27,"thickness":2,"opacity":1},"encoding":{"y":{"field":"lo","type":"quantitative"},"fill":{"field":"g","type":"nominal","scale":{"domain":["Nr1d1+/+","Nr1d1-/-"],"range":["#111111","#e8412c"]},"legend":null}}},
{"mark":{"type":"tick","orient":"horizontal","size":27,"thickness":2,"opacity":1},"encoding":{"y":{"field":"hi","type":"quantitative"},"fill":{"field":"g","type":"nominal","legend":null}}},
{"mark":{"type":"tick","orient":"horizontal","size":49,"thickness":2,"opacity":1},"encoding":{"y":{"field":"m","type":"quantitative"},"fill":{"field":"g","type":"nominal","legend":null}}},
{"mark":{"type":"bar","filled":false,"width":49,"strokeWidth":2},"encoding":{"y":{"field":"q1","type":"quantitative"},"y2":{"field":"q3"},"color":{"field":"g","type":"nominal","scale":{"domain":["Nr1d1+/+","Nr1d1-/-"],"range":["#111111","#e8412c"]},"legend":{"title":null,"orient":"none","legendX":10,"legendY":0,"symbolType":"square","symbolSize":170,"symbolStrokeWidth":2,"labelFontSize":15,"labelFontStyle":"italic","labelOffset":6,"rowPadding":-5,"padding":0}}}},
{"data":{"values":[{"a":"LIGHT +/+","b":"LIGHT -/-","y":1.156},{"a":"DARK +/+","b":"DARK -/-","y":1.156}]},"mark":{"type":"rule","strokeWidth":2,"color":"#000"},
"encoding":{"x":{"field":"a","type":"nominal"},"x2":{"field":"b"},"y":{"field":"y","type":"quantitative"}}}
]}
],
"resolve":{"scale":{"x":"independent"},"axis":{"x":"independent"}}}
]}
]},
{"spacing":0,"resolve":{"scale":{"color":"independent"},"legend":{"color":"independent"}},
"hconcat":[
{"width":1,"height":1,"data":{"values":[{}]},"mark":{"type":"text","text":""},"encoding":{}},
{"title":{"text":"E","anchor":"start","frame":"bounds","fontSize":28,"dx":-4,"offset":-30},
"vconcat":[
{"width":264,"height":212,
"title":{"text":"Thermogenesis","anchor":"middle","frame":"group","fontSize":18,"offset":9},
"view":{"stroke":"#777","strokeDash":[1,1.5],"strokeWidth":1},
"layer":[
{"layer":[
{"data":{"values":[{"a":0,"b":1}]},"mark":{"type":"rect","color":"#fdf9de"},
"encoding":{"x":{"field":"a","type":"quantitative","scale":{"domain":[0,2],"nice":false},"axis":{"title":null,"values":[0.16667,0.5,0.83333,1.16667,1.5,1.83333],"labelExpr":"datum.value == 0.5 ? 'LIGHT' : datum.value == 1.5 ? 'DARK' : ''","labelFlush":false,"labelOverlap":false,"tickSize":6,"tickWidth":2,"domainWidth":2.5,"labelFontSize":17,"labelPadding":0}},
"x2":{"field":"b"},
"y":{"datum":0,"type":"quantitative","scale":{"domain":[0,0.08],"nice":false},"axis":{"values":[0,0.02,0.04,0.06,0.08],"format":".2f","title":"kcal/hr/lean mass","titleFontSize":18,"labelFontSize":18,"domainWidth":2.5,"tickSize":4,"tickWidth":2,"titlePadding":21,"labelPadding":0}},
"y2":{"datum":0.08}}},
{"data":{"values":[{"a":1,"b":2}]},"mark":{"type":"rect","color":"#9b96c4"},
"encoding":{"x":{"field":"a","type":"quantitative"},"x2":{"field":"b"},"y":{"datum":0,"type":"quantitative"},"y2":{"datum":0.08}}},
{"data":{"values":[{}]},"mark":{"type":"rule","strokeDash":[1,1.5],"color":"#555","strokeWidth":1},"encoding":{"x":{"datum":1,"type":"quantitative"}}},
{"data":{"values":[{"x":0.5,"y":0.064,"s":"*"},{"x":0.33,"y":0.0566,"s":"ns"},{"x":1.47,"y":0.0633,"s":"*"},{"x":1.37,"y":0.0529,"s":"*"}]},"mark":{"type":"text","fontSize":18,"baseline":"alphabetic","color":"#000"},
"encoding":{"x":{"field":"x","type":"quantitative"},"y":{"field":"y","type":"quantitative"},"text":{"field":"s"}}}
]},
{"data":{"values":[
{"k":"LIGHT +/+","lo":0.0201,"q1":0.0311,"m":0.0324,"q3":0.0339,"hi":0.0464},
{"k":"LIGHT +/-","lo":0.0209,"q1":0.0301,"m":0.0321,"q3":0.0344,"hi":0.0480},
{"k":"LIGHT -/-","lo":0.0172,"q1":0.0184,"m":0.0198,"q3":0.0207,"hi":0.0246},
{"k":"DARK +/+","lo":0.0267,"q1":0.0303,"m":0.0339,"q3":0.0351,"hi":0.0401},
{"k":"DARK +/-","lo":0.0330,"q1":0.0379,"m":0.0404,"q3":0.0431,"hi":0.0480},
{"k":"DARK -/-","lo":0.0209,"q1":0.0317,"m":0.0359,"q3":0.0401,"hi":0.0480}]},
"encoding":{"x":{"field":"k","type":"nominal","scale":{"domain":["LIGHT +/+","LIGHT +/-","LIGHT -/-","DARK +/+","DARK +/-","DARK -/-"],"paddingInner":0,"paddingOuter":0},"axis":null}},
"layer":[
{"mark":{"type":"rule","strokeWidth":2},"encoding":{"y":{"field":"lo","type":"quantitative"},"y2":{"field":"q1"},"color":{"field":"k","type":"nominal","scale":{"domain":["LIGHT +/+","LIGHT +/-","LIGHT -/-","DARK +/+","DARK +/-","DARK -/-"],"range":["#35352a","#6b74a9","#f06b2a","#22234b","#3550a8","#b3354f"]},"legend":null}}},
{"mark":{"type":"rule","strokeWidth":2},"encoding":{"y":{"field":"q3","type":"quantitative"},"y2":{"field":"hi"},"color":{"field":"k","type":"nominal","legend":null}}},
{"mark":{"type":"tick","orient":"horizontal","size":19,"thickness":2,"opacity":1},"encoding":{"y":{"field":"lo","type":"quantitative"},"color":{"field":"k","type":"nominal","legend":null}}},
{"mark":{"type":"tick","orient":"horizontal","size":19,"thickness":2,"opacity":1},"encoding":{"y":{"field":"hi","type":"quantitative"},"color":{"field":"k","type":"nominal","legend":null}}},
{"mark":{"type":"tick","orient":"horizontal","size":27,"thickness":2,"opacity":1},"encoding":{"y":{"field":"m","type":"quantitative"},"color":{"field":"k","type":"nominal","legend":null}}},
{"mark":{"type":"bar","filled":false,"width":27,"strokeWidth":2},"encoding":{"y":{"field":"q1","type":"quantitative"},"y2":{"field":"q3"},"color":{"field":"k","type":"nominal","legend":null}}},
{"data":{"values":[{"a":"LIGHT +/+","b":"LIGHT -/-","y":0.064},{"a":"LIGHT +/+","b":"LIGHT +/-","y":0.0533},{"a":"DARK +/+","b":"DARK -/-","y":0.0633},{"a":"DARK +/+","b":"DARK +/-","y":0.0529}]},"mark":{"type":"rule","strokeWidth":2,"color":"#000"},
"encoding":{"x":{"field":"a","type":"nominal"},"x2":{"field":"b"},"y":{"field":"y","type":"quantitative"}}}
]}
],
"resolve":{"scale":{"x":"independent"},"axis":{"x":"independent"}}}
]}
]}
]
}
